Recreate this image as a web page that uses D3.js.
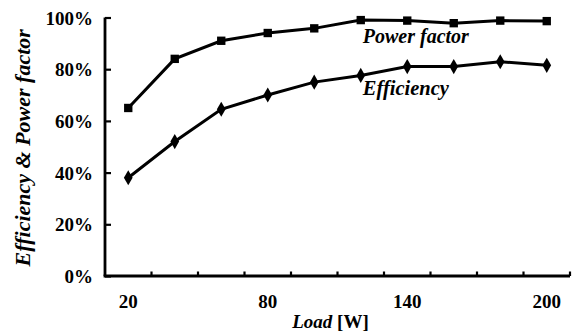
<!DOCTYPE html>
<html><head><meta charset="utf-8">
<script src="https://cdn.jsdelivr.net/npm/d3@7"></script>
<style>
html,body{margin:0;padding:0;background:#fff;}
svg{display:block;}
</style></head>
<body>
<svg id="c" width="574" height="333"></svg>
<script>
const loads = ["20","40","60","80","100","120","140","160","180","200"];
const powerFactor = [0.65, 0.84, 0.91, 0.94, 0.958, 0.99, 0.988, 0.978, 0.988, 0.986];
const efficiency = [0.38, 0.52, 0.645, 0.70, 0.75, 0.776, 0.81, 0.81, 0.829, 0.815];
const yTicks = [0, 0.2, 0.4, 0.6, 0.8, 1.0];
const xLabels = ["20","80","140","200"];

const FONT = '"Liberation Serif", "Times New Roman", serif';
const svg = d3.select("#c");
const L = 105, R = 570, T = 17.5, B = 276;
const x = d3.scaleBand().domain(loads).range([L, R]);
const y = d3.scaleLinear().domain([0, 1]).range([B, T]);
const cx = d => x(d) + x.bandwidth() / 2;
const fnt = (sel, size, italic) => sel.style("font-family", FONT).style("font-size", size + "px")
  .style("font-weight", "bold").style("font-style", italic ? "italic" : "normal").attr("fill", "#000");

// y axis
const yAxis = d3.axisLeft(y).tickValues(yTicks).tickSize(-6).tickPadding(12)
  .tickFormat(d3.format(".0%"));
const gy = svg.append("g").attr("transform", `translate(${L},0)`).call(yAxis);
gy.attr("font-family", null).attr("font-size", null);
gy.select(".domain").attr("stroke", "#000").attr("stroke-width", 2.8).attr("d", `M0,${T}V${B}`);
gy.selectAll(".tick line").attr("stroke", "#000").attr("stroke-width", 2.2);
fnt(gy.selectAll(".tick text"), 19, false).attr("dy", "0.35em");

// x axis : ticks between categories
const gx = svg.append("g").attr("transform", `translate(0,${B})`);
gx.append("line").attr("x1", L - 1.4).attr("x2", R).attr("y1", 0).attr("y2", 0)
  .attr("stroke", "#000").attr("stroke-width", 2.8);
gx.selectAll("line.tk").data(loads).join("line").attr("class", "tk")
  .attr("x1", d => x(d) + x.bandwidth()).attr("x2", d => x(d) + x.bandwidth())
  .attr("y1", 0).attr("y2", -4.5).attr("stroke", "#000").attr("stroke-width", 2.2);
fnt(gx.selectAll("text").data(xLabels).join("text")
  .attr("x", d => cx(d)).attr("y", 32).attr("text-anchor", "middle"), 19, false).text(d => d);

// lines
const line = d3.line().x((d, i) => cx(loads[i])).y(d => y(d));
svg.append("path").datum(powerFactor).attr("d", line).attr("fill", "none")
  .attr("stroke", "#000").attr("stroke-width", 3);
svg.append("path").datum(efficiency).attr("d", line).attr("fill", "none")
  .attr("stroke", "#000").attr("stroke-width", 3);

// markers
svg.selectAll("path.sq").data(powerFactor).join("path").attr("class", "sq")
  .attr("d", d3.symbol(d3.symbolSquare, 70))
  .attr("transform", (d, i) => `translate(${cx(loads[i])},${y(d)})`).attr("fill", "#000");
svg.selectAll("path.dm").data(efficiency).join("path").attr("class", "dm")
  .attr("d", d3.symbol(d3.symbolDiamond, 66))
  .attr("transform", (d, i) => `translate(${cx(loads[i])},${y(d)})`).attr("fill", "#000");

// series labels
fnt(svg.append("text").attr("x", cx(loads[5]) + 2).attr("y", y(powerFactor[5]) + 23), 20, true)
  .text("Power factor");
fnt(svg.append("text").attr("x", cx(loads[5]) + 2).attr("y", y(efficiency[5]) + 20), 20.5, true)
  .text("Efficiency");

// axis titles
const xt = fnt(svg.append("text").attr("x", (L + R) / 2 - 7).attr("y", 328).attr("text-anchor", "middle"), 19, false);
xt.append("tspan").style("font-style", "italic").text("Load ");
xt.append("tspan").text("[W]");

fnt(svg.append("text").attr("transform", `translate(30,${(T + B) / 2 + 1}) rotate(-90)`)
  .attr("text-anchor", "middle"), 22, true)
  .text("Efficiency & Power factor");
</script>
</body></html>
